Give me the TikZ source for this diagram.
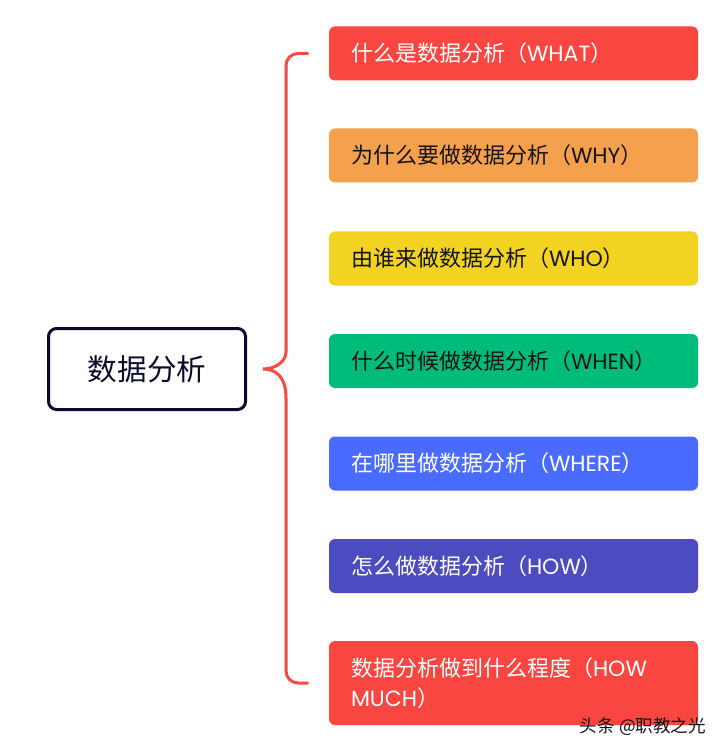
\documentclass[tikz,border=0pt]{standalone}
\usepackage{fontspec}
\setmainfont{Noto Sans CJK SC}
\newfontfamily\latinfont{Poppins}
\usetikzlibrary{calc}
\definecolor{rootnavy}{HTML}{0B0B2E}
\definecolor{bracered}{HTML}{F74A40}
\definecolor{topicred}{HTML}{FA4640}
\definecolor{topicorange}{HTML}{F5A04C}
\definecolor{topicyellow}{HTML}{F2D322}
\definecolor{topicgreen}{HTML}{00BC7A}
\definecolor{topicblue}{HTML}{4A6BFF}
\definecolor{topicpurple}{HTML}{4C4BBF}
\definecolor{darktext}{HTML}{141414}
\newcommand{\lt}[1]{{\latinfont #1}}

\begin{document}
\begin{tikzpicture}[
        x=0.5pt,
        y=-0.5pt,
        root/.style={
          draw=rootnavy,
          fill=white,
          line width=1.5pt,
          rounded corners=4pt,
          minimum width=98.5pt,
          minimum height=40.5pt,
          text=rootnavy,
          font=\fontsize{14.8}{17}\selectfont
        },
        topic/.style={
          rounded corners=3pt,
          text width=162.5pt,
          inner xsep=11pt,
          align=left,
          font=\fontsize{11}{15}\selectfont
        },
        brace/.style={
          draw=bracered,
          line width=1.5pt,
          line cap=round
        }
      ]
        \useasboundingbox (0,0) rectangle (726,753);

        \node[root] (root) at (147,369) {数据分析};

        \foreach \i/\y/\h/\c/\t/\s in {
            1/53.5/27/topicred/white/什么是数据分析（\lt{WHAT}）,
            2/155.5/27/topicorange/darktext/为什么要做数据分析（\lt{WHY}）,
            3/258.5/27/topicyellow/darktext/由谁来做数据分析（\lt{WHO}）,
            4/361/27/topicgreen/darktext/什么时候做数据分析（\lt{WHEN}）,
            5/463.5/27/topicblue/white/在哪里做数据分析（\lt{WHERE}）,
            6/566/27/topicpurple/white/怎么做数据分析（\lt{HOW}）,
            7/683/42/topicred/white/{数据分析做到什么程度（\lt{HOW}\\\lt{MUCH}）}}
          \node[topic,fill=\c,text=\t,minimum height=\h pt] (q\i) at (513.5,\y) {\s};

        \coordinate (tip) at ($(root.east)+(16,0)$);

        \draw[brace,rounded corners=6pt] ($(q1.west)+(-21,0)$) -- (286,53.5) -- (286,340)
          [sharp corners] .. controls (286,361) and (276,369) .. (tip)
          .. controls (276,369) and (286,377) .. (286,398)
          [rounded corners=6pt] -- (286,683) -- ($(q7.west)+(-21,0)$);

        \node[text=darktext,font=\fontsize{8.8}{10}\selectfont] (mark) at (643,727) {头条 @职教之光};
      \end{tikzpicture}
\end{document}
